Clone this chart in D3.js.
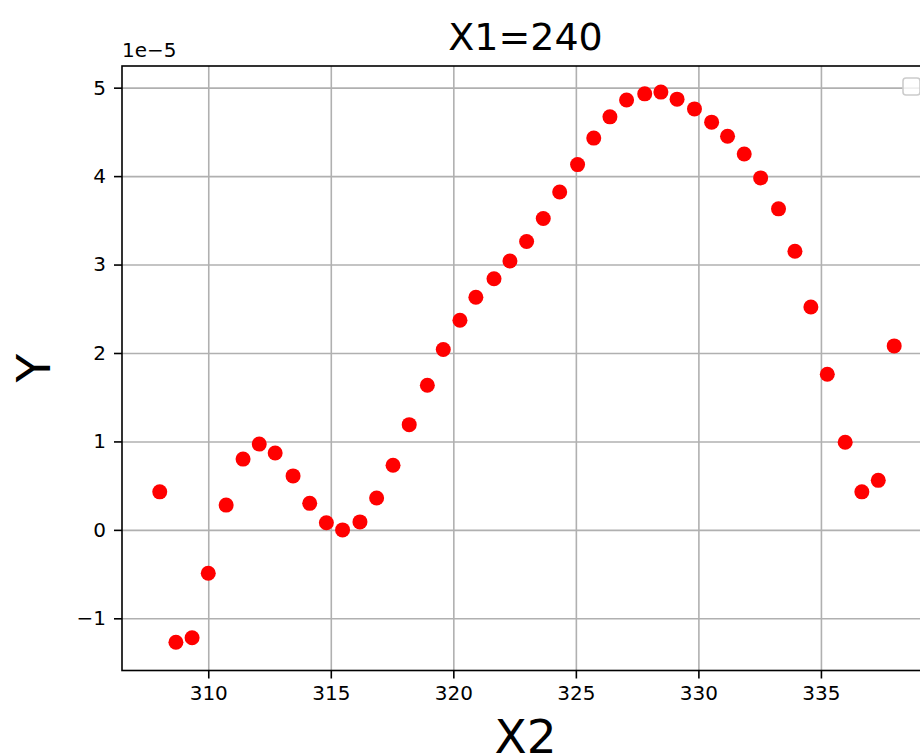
<!DOCTYPE html>
<html>
<head>
<meta charset="utf-8">
<script src="https://cdnjs.cloudflare.com/ajax/libs/d3/7.8.5/d3.min.js"></script>
<style>
  body { margin: 0; background: #fff; }
  svg { display: block; font-family: "DejaVu Sans", sans-serif; }
</style>
</head>
<body>
<svg id="chart" width="920" height="754"></svg>
<script>
// X2 positions of the scatter points
var x2Values = [
  308.02, 308.68, 309.34, 310.00, 310.73, 311.42, 312.08, 312.73, 313.46, 314.14,
  314.82, 315.48, 316.19, 316.87, 317.54, 318.20, 318.94, 319.59, 320.27, 320.92,
  321.66, 322.31, 322.99, 323.67, 324.34, 325.07, 325.73, 326.39, 327.07, 327.81,
  328.47, 329.13, 329.84, 330.54, 331.19, 331.87, 332.54, 333.27, 333.94, 334.59,
  335.26, 335.99, 336.67, 337.34, 337.99
];

// Y values, in units of 1e-5
var yValues = [
  0.43, -1.27, -1.22, -0.49, 0.28, 0.80, 0.97, 0.87, 0.61, 0.30,
  0.08, 0.00, 0.09, 0.36, 0.73, 1.19, 1.635, 2.04, 2.37, 2.63,
  2.84, 3.04, 3.26, 3.52, 3.82, 4.13, 4.43, 4.67, 4.86, 4.93,
  4.95, 4.87, 4.76, 4.61, 4.45, 4.25, 3.98, 3.63, 3.15, 2.52,
  1.76, 0.99, 0.43, 0.56, 2.08
];

var xTicks = [310, 315, 320, 325, 330, 335];
var yTicks = [-1, 0, 1, 2, 3, 4, 5];
var titleText = "X1=240";
var offsetText = "1e\u22125";

//------------------------------------------------------------
// layout

var margin = {top: 66, right: -9, bottom: 83.5, left: 122}
  , width = 920
  , height = 754
  , innerW = width - margin.left - margin.right
  , innerH = height - margin.top - margin.bottom
  , gridColor = "#b0b0b0"
  ;

var svg = d3.select("#chart");

var x = d3.scaleLinear().domain([306.48, 339.41]).range([0, innerW]);
var y = d3.scaleLinear().domain([-1.59, 5.245]).range([innerH, 0]);

var g = svg.append("g")
    .attr("transform", "translate(" + margin.left + "," + margin.top + ")");

g.append("clipPath").attr("id", "plot-clip")
  .append("rect").attr("width", innerW).attr("height", innerH);

// grid
g.append("g")
    .attr("class", "grid-x")
    .attr("transform", "translate(0," + innerH + ")")
    .call(d3.axisBottom(x).tickValues(xTicks).tickSize(-innerH).tickFormat(""))
    .call(function (s) { s.select(".domain").remove(); })
    .selectAll("line").attr("stroke", gridColor).attr("stroke-width", 1.6);

g.append("g")
    .attr("class", "grid-y")
    .call(d3.axisLeft(y).tickValues(yTicks).tickSize(-innerW).tickFormat(""))
    .call(function (s) { s.select(".domain").remove(); })
    .selectAll("line").attr("stroke", gridColor).attr("stroke-width", 1.6);

// points
var points = x2Values.map(function (d, i) { return {x: d, y: yValues[i]}; });

g.append("g")
    .attr("clip-path", "url(#plot-clip)")
  .selectAll("circle")
    .data(points)
  .enter().append("circle")
    .attr("cx", function (d) { return x(d.x); })
    .attr("cy", function (d) { return y(d.y); })
    .attr("r", 7.5)
    .attr("fill", "#ff0000");

// spines
g.append("rect")
    .attr("width", innerW)
    .attr("height", innerH)
    .attr("fill", "none")
    .attr("stroke", "#000")
    .attr("stroke-width", 1.6);

// axes
var xAxis = g.append("g")
    .attr("transform", "translate(0," + innerH + ")")
    .call(d3.axisBottom(x).tickValues(xTicks).tickSize(8).tickPadding(7).tickFormat(d3.format("d")));
xAxis.select(".domain").remove();
xAxis.selectAll("line").attr("stroke", "#000").attr("stroke-width", 1.6);
xAxis.selectAll("text").attr("font-size", 20).attr("fill", "#000")
    .attr("font-family", "DejaVu Sans");

var yAxis = g.append("g")
    .call(d3.axisLeft(y).tickValues(yTicks).tickSize(8).tickPadding(8).tickFormat(d3.format("d")));
yAxis.select(".domain").remove();
yAxis.selectAll("line").attr("stroke", "#000").attr("stroke-width", 1.6);
yAxis.selectAll("text").attr("font-size", 20).attr("fill", "#000")
    .attr("font-family", "DejaVu Sans");

// offset text
svg.append("text")
    .attr("x", margin.left)
    .attr("y", 57)
    .attr("font-size", 20)
    .text(offsetText);

// title
svg.append("text")
    .attr("x", margin.left + innerW / 2)
    .attr("y", 50)
    .attr("text-anchor", "middle")
    .attr("font-size", 38)
    .text(titleText);

// axis labels
svg.append("text")
    .attr("x", margin.left + innerW / 2)
    .attr("y", 753)
    .attr("text-anchor", "middle")
    .attr("font-size", 47)
    .text("X2");

svg.append("text")
    .attr("transform", "translate(50," + (margin.top + innerH / 2) + ") rotate(-90)")
    .attr("text-anchor", "middle")
    .attr("font-size", 47)
    .text("Y");

// empty legend frame (upper right)
svg.append("rect")
    .attr("x", 903)
    .attr("y", 78)
    .attr("width", 17)
    .attr("height", 17)
    .attr("rx", 3)
    .attr("fill", "#fff")
    .attr("fill-opacity", 0.8)
    .attr("stroke", "#cccccc")
    .attr("stroke-width", 1.6);
</script>
</body>
</html>
